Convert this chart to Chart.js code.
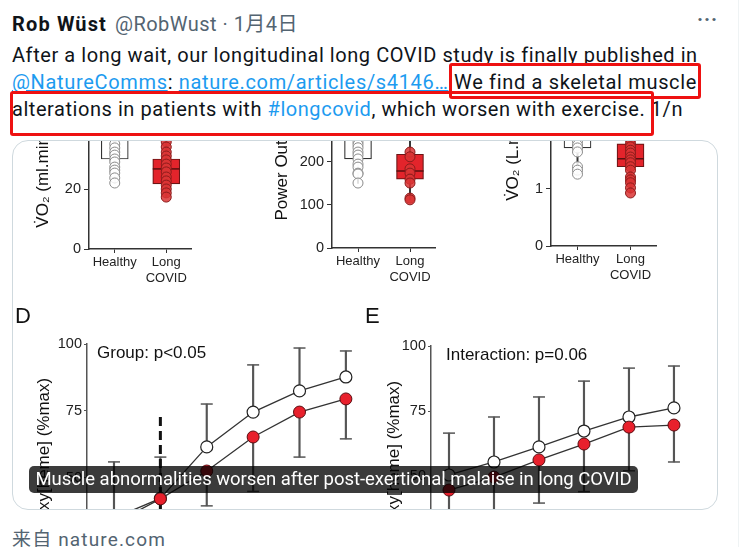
<!DOCTYPE html>
<html><head><meta charset="utf-8">
<script src="https://cdn.jsdelivr.net/npm/chart.js@4.4.1/dist/chart.umd.min.js"></script>
<style>
html,body{margin:0;padding:0}
body{width:746px;height:547px;overflow:hidden;background:#fff;position:relative;font-family:Roboto,"Noto Sans CJK SC",sans-serif;color:#0f1419}
.t{position:absolute;white-space:nowrap;font-size:20px;line-height:20px}
.g{color:#536471}
.b{color:#1d9bf0}
.u{text-decoration:underline}
.rb{position:absolute;border:3px solid #ee1111;border-radius:3px;box-sizing:border-box}
#card{position:absolute;left:12px;top:140px;width:706px;height:370px;box-sizing:border-box;border:1px solid #cfd9de;border-radius:16px;overflow:hidden;background:#fff}
#card canvas{position:absolute}
#cap{position:absolute;left:16px;top:325px;width:609px;height:27px;border-radius:5px;background:rgba(0,0,0,0.77);z-index:5}
#capt{position:absolute;left:0;top:4px;width:609px;text-align:center;color:#fff;font-size:18.5px;line-height:19px;white-space:nowrap}
#col{position:absolute;left:738px;top:0;width:1px;height:547px;background:#eff3f4}
</style></head>
<body>
<div id="col"></div>
<div class="t" id="nm" style="left:12px;top:14px;font-weight:700">Rob Wüst</div>
<div class="t g" id="hd" style="left:115px;top:14px">@RobWust · 1月4日</div>
<div class="t g" style="left:697px;top:9px;font-size:20px;letter-spacing:1px;font-weight:700">···</div>
<div class="t" id="l1" style="left:12px;top:45px">After a long wait, our longitudinal long COVID study is finally published in</div>
<div class="t" id="l2" style="left:12px;top:72px"><span class="b u">@NatureComms</span>: <span class="b u">nature.com/articles/s4146…</span>  We find a skeletal muscle</div>
<div class="t" id="l3" style="left:12px;top:99px">alterations in patients with <span class="b">#longcovid</span>, which worsen with exercise. 1/n</div>
<div class="rb" style="left:449px;top:63px;width:252px;height:36px"></div>
<div class="rb" style="left:10px;top:91px;width:644px;height:45px"></div>
<div id="card">
  <canvas id="ca"></canvas><canvas id="cb"></canvas><canvas id="cc"></canvas>
  <canvas id="cd"></canvas><canvas id="ce"></canvas>
  <div id="cap"><div id="capt">Muscle abnormalities worsen after post-exertional malaise in long COVID</div></div>
</div>
<div class="t g" id="ft" style="left:12px;top:530px;font-size:19px;line-height:19px">来自 nature.com</div>
<script>
// ---------- data ----------
const groups = ['Healthy', 'Long COVID'];
// box summaries: [min, q1, median, q3, max]
const vo2kgHealthyBox = [22, 30, 37.5, 41, 47];
const vo2kgLongBox    = [17.3, 21.7, 26.7, 30, 38];
const vo2kgHealthyPts = [47, 44, 41, 39, 37.5, 35, 33.7, 32.3, 31.3, 30, 29, 27.3, 26.3, 25.3, 23.7, 22];
const vo2kgLongPts    = [38, 35.7, 34, 32.3, 31, 29.7, 28.3, 27, 25.7, 24, 22.7, 21.3, 20, 18.7, 17.3];

const powerHealthyBox = [150, 207, 262, 285, 330];
const powerLongBox    = [112, 160, 179, 218, 262];
const powerHealthyPts = [330, 300, 280, 262, 246, 240, 233, 223, 216, 207, 195, 188, 174, 172, 151];
const powerLongPts    = [223, 212, 184, 174, 160, 151, 116, 112];

const vo2HealthyBox = [1.26, 1.72, 1.95, 2.15, 2.5];
const vo2LongBox    = [0.93, 1.39, 1.53, 1.79, 2.1];
const vo2HealthyPts = [2.5, 2.4, 2.2, 2.05, 1.95, 1.84, 1.77, 1.72, 1.65, 1.39, 1.33, 1.26];
const vo2LongPts    = [2.1, 1.95, 1.86, 1.79, 1.74, 1.68, 1.63, 1.56, 1.51, 1.46, 1.39, 1.33, 1.21, 1.16, 1.11, 1.02, 0.93];

const timePoints = [1, 2, 3, 4, 5, 6];
// Panel D
const dHealthy      = [35, 42.4, 61.6, 74.6, 82.5, 87.7];
const dHealthyUpper = [56, 57.8, 77.6, 92.2, 98.5, 97.4];
const dLong         = [33, 42.2, 52.6, 65.3, 74.6, 79.5];
const dLongLower    = [12, 25, 39.6, 45, 57.8, 64.6];
const dMarkerTime = 2, dMarkerTop = 72.8;
// Panel E
const eHealthy      = [50.4, 55.4, 61.2, 67.3, 72.7, 76.2];
const eHealthyUpper = [66.5, 72.7, 80.4, 86.5, 91.5, 92.3];
const eLong         = [44.6, 49.6, 56.2, 62.3, 68.8, 69.6];
const eLongLower    = [22, 30, 39.6, 44, 52, 55.4];

// ---------- setup ----------
const FONT = '"Liberation Sans", Arial, sans-serif';
Chart.defaults.font.family = FONT;
Chart.defaults.color = '#222';
Chart.defaults.animation = false;
Chart.defaults.events = [];
Chart.defaults.plugins.legend.display = false;
Chart.defaults.plugins.tooltip.enabled = false;

function place(id, left, top, w, h) {
  const c = document.getElementById(id);
  c.width = w; c.height = h;
  c.style.left = (left - 13) + 'px'; c.style.top = (top - 141) + 'px';
  c.style.width = w + 'px'; c.style.height = h + 'px';
  return c;
}
function noPad(s) { s.paddingTop = 0; s.paddingBottom = 0; s.paddingLeft = 0; s.paddingRight = 0; }

const noteText = {
  id: 'noteText',
  afterDraw(chart, args, opts) {
    if (!opts || !opts.text) return;
    const {ctx, chartArea} = chart;
    ctx.save();
    ctx.font = '17px ' + FONT;
    ctx.fillStyle = '#111';
    ctx.textBaseline = 'middle';
    ctx.fillText(opts.text, chartArea.left + opts.dx, chartArea.top + opts.dy);
    ctx.restore();
  }
};
Chart.register(noteText);

function boxChart(id, pos, hBox, lBox, hPts, lPts, yMax, step, title, yW) {
  const c = place(id, pos[0], pos[1], pos[2], pos[3]);
  return new Chart(c, {
    type: 'bar',
    data: {
      labels: groups,
      datasets: [
        {type: 'scatter', order: 0, data: hPts.map(v => ({x: groups[0], y: v})),
         pointRadius: 5, pointBackgroundColor: 'rgba(255,255,255,0.85)', pointBorderColor: '#8a8a8a', pointBorderWidth: 1},
        {type: 'scatter', order: 0, data: lPts.map(v => ({x: groups[1], y: v})),
         pointRadius: 5, pointBackgroundColor: 'rgba(218,52,52,0.85)', pointBorderColor: '#8c1b1b', pointBorderWidth: 1},
        {type: 'scatter', order: 1, data: [{x: groups[0], y: hBox[2]}, {x: groups[1], y: lBox[2]}],
         pointStyle: 'line', pointRadius: 13.5, pointBorderColor: ['#333', '#5a1010'], pointBorderWidth: 1.5},
        {type: 'bar', order: 2, grouped: false, barThickness: 27, borderSkipped: false,
         data: [[hBox[1], hBox[3]], [lBox[1], lBox[3]]],
         backgroundColor: ['#ffffff', '#e3242b'], borderColor: ['#333', '#6b1515'], borderWidth: 1.2},
        {type: 'bar', order: 3, grouped: false, barThickness: 1.3,
         data: [[hBox[0], hBox[4]], [lBox[0], lBox[4]]], backgroundColor: '#333'}
      ]
    },
    options: {
      responsive: false, devicePixelRatio: 1,
      layout: {autoPadding: false, padding: 0},
      scales: {
        x: {type: 'category', offset: true,
            grid: {offset: false, drawOnChartArea: false, drawTicks: true, tickLength: 4, color: '#333'},
            border: {color: '#333', width: 1.5},
            ticks: {font: {size: 13}, color: '#222', padding: 2, maxRotation: 0,
                    callback: function(v) { const l = this.getLabelForValue(v); return l.indexOf(' ') > 0 ? l.split(' ') : l; }},
            afterFit: s => { s.height = 45; noPad(s); }},
        y: {type: 'linear', min: 0, max: yMax,
            grid: {drawOnChartArea: false, drawTicks: true, tickLength: 5, color: '#333'},
            border: {color: '#333', width: 1.5},
            ticks: {stepSize: step, font: {size: 14.5}, color: '#222', padding: 3},
            title: {display: true, text: title, font: {size: 17}, color: '#111', padding: {top: 4, bottom: 0}},
            afterFit: s => { s.width = yW; noPad(s); }}
      }
    }
  });
}

// A: axis x=89, zero y=249, 3 px/unit
boxChart('ca', [29, 63, 163, 231], vo2kgHealthyBox, vo2kgLongBox, vo2kgHealthyPts, vo2kgLongPts, 62, 20, 'V̇O₂ (ml.min⁻¹.kg⁻¹)', 60);
// B: axis x=332, zero y=248, 0.43 px/unit
boxChart('cb', [268, 57, 168, 236], powerHealthyBox, powerLongBox, powerHealthyPts, powerLongPts, 444, 100, 'Power Output (W)', 64);
// C: axis x=551, zero y=246, 57 px/unit
boxChart('cc', [499, 55, 158, 236], vo2HealthyBox, vo2LongBox, vo2HealthyPts, vo2LongPts, 3.35, 1, 'V̇O₂ (L.min⁻¹)', 52);

function lineChart(id, pos, letter, note, noteDx, hMean, hUp, lMean, lLow, yMin, xMin, xMax, yW, titleBottom, marker) {
  const c = place(id, pos[0], pos[1], pos[2], pos[3]);
  const pts = arr => timePoints.map((t, i) => ({x: t, y: arr[i]}));
  const bars = (a, b) => timePoints.map((t, i) => ({x: t, y: [a[i], b[i]]}));
  const ds = [
    {type: 'line', order: 0, data: pts(lMean), borderColor: '#333', borderWidth: 1.3,
     pointRadius: 6, pointBackgroundColor: '#e8202c', pointBorderColor: '#5a0c10', pointBorderWidth: 1},
    {type: 'line', order: 1, data: pts(hMean), borderColor: '#333', borderWidth: 1.3,
     pointRadius: 6, pointBackgroundColor: '#ffffff', pointBorderColor: '#222', pointBorderWidth: 1.2},
    {type: 'bar', order: 5, grouped: false, barThickness: 1.5, data: bars(hMean, hUp), backgroundColor: '#555'},
    {type: 'bar', order: 5, grouped: false, barThickness: 1.5, data: bars(lLow, lMean), backgroundColor: '#555'},
    {type: 'scatter', order: 4, data: pts(hUp), pointStyle: 'line', pointRadius: 6, pointBorderColor: '#555', pointBorderWidth: 1.5},
    {type: 'scatter', order: 4, data: pts(lLow), pointStyle: 'line', pointRadius: 6, pointBorderColor: '#555', pointBorderWidth: 1.5}
  ];
  if (marker) {
    ds.push({type: 'line', order: 3, data: [{x: marker[0], y: marker[1]}, {x: marker[0], y: yMin}],
      borderColor: '#111', borderWidth: 3, borderDash: [9, 5], pointRadius: 0});
  }
  return new Chart(c, {
    type: 'line',
    data: {datasets: ds},
    options: {
      responsive: false, devicePixelRatio: 1,
      layout: {autoPadding: false, padding: 0},
      plugins: {
        title: {display: true, text: letter, align: 'start', color: '#111',
                font: {size: 22, weight: 'normal'}, padding: {top: 4, bottom: titleBottom}},
        noteText: {text: note, dx: noteDx, dy: 9}
      },
      scales: {
        x: {type: 'linear', display: false, min: xMin, max: xMax, offset: false, grid: {offset: false},
            afterFit: s => noPad(s)},
        y: {type: 'linear', min: yMin, max: 100,
            grid: {drawOnChartArea: false, drawTicks: true, tickLength: 3, color: '#555'},
            border: {color: '#555', width: 1.5},
            ticks: {stepSize: 25, font: {size: 14.5}, color: '#222', padding: 2,
                    callback: v => (v % 25 === 0 ? v : '')},
            title: {display: true, text: 'Deoxy[heme] (%max)', font: {size: 17}, color: '#111', padding: {top: 19, bottom: 0}},
            afterFit: s => { s.width = yW; noPad(s); }}
      }
    }
  });
}

// D: y axis x=87, 100 at y=344, 2.68 px/unit, points spaced 46.4 px
lineChart('cd', [15, 300, 355, 275], 'D', 'Group: p<0.05', 10,
  dHealthy, dHealthyUpper, dLong, dLongLower, 13.8, 0.418, 6.52, 72, 13.6, [dMarkerTime, dMarkerTop]);
// E: y axis x=431, 100 at y=346, 2.6 px/unit, spacing 45 px
lineChart('ce', [365, 300, 340, 279], 'E', 'Interaction: p=0.06', 15,
  eHealthy, eHealthyUpper, eLong, eLongLower, 10.4, 0.6, 6.69, 66, 15.6, null);

// ---------- fit text widths ----------
function fit(id, target) {
  const el = document.getElementById(id);
  const w = el.getBoundingClientRect().width;
  const n = el.textContent.length;
  el.style.letterSpacing = ((target - w) / n) + 'px';
}
fit('nm', 95); fit('hd', 183); fit('l1', 685); fit('l2', 685); fit('l3', 671); fit('ft', 154);
(function(){
  const el = document.getElementById('capt');
  el.style.display = 'inline-block'; el.style.width = 'auto';
  const w = el.getBoundingClientRect().width;
  el.style.letterSpacing = ((596 - w) / el.textContent.length) + 'px';
  const w2 = el.getBoundingClientRect().width;
  el.style.left = ((609 - w2) / 2) + 'px';
})();
</script>
</body></html>
